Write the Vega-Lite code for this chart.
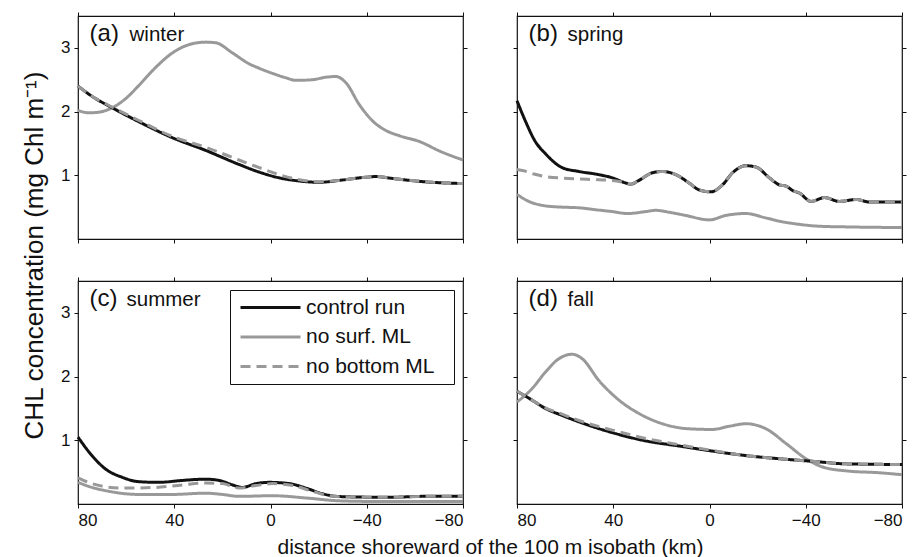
{
  "$schema": "https://vega.github.io/schema/vega-lite/v6.json",
  "padding": {"left": 20, "top": 10, "right": 10, "bottom": 2},
  "background": "white",
  "bounds": "flush",
  "columns": 2,
  "spacing": {"row": 42, "column": 54},
  "config": {
    "font": "Liberation Sans",
    "view": {"stroke": "#111", "strokeWidth": 1.2},
    "axis": {"grid": false, "domain": false, "tickColor": "#111", "tickSize": 4, "tickWidth": 1, "labelFontSize": 17, "labelColor": "#111", "labelPadding": 4, "titleColor": "#111", "titleFontWeight": "normal", "labelFont": "Liberation Sans", "titleFont": "Liberation Sans"}
  },
  "datasets": {
    "curves": [
      {"panel":"a","series":"control run","dist":80,"chl":2.40},
      {"panel":"a","series":"control run","dist":74.2,"chl":2.24},
      {"panel":"a","series":"control run","dist":65.8,"chl":2.06},
      {"panel":"a","series":"control run","dist":54.7,"chl":1.84},
      {"panel":"a","series":"control run","dist":40.8,"chl":1.59},
      {"panel":"a","series":"control run","dist":26.9,"chl":1.39},
      {"panel":"a","series":"control run","dist":13.1,"chl":1.17},
      {"panel":"a","series":"control run","dist":4.7,"chl":1.05},
      {"panel":"a","series":"control run","dist":-3.6,"chl":0.96},
      {"panel":"a","series":"control run","dist":-12,"chl":0.91},
      {"panel":"a","series":"control run","dist":-20.3,"chl":0.89},
      {"panel":"a","series":"control run","dist":-28.6,"chl":0.92},
      {"panel":"a","series":"control run","dist":-39.7,"chl":0.97},
      {"panel":"a","series":"control run","dist":-43.9,"chl":0.98},
      {"panel":"a","series":"control run","dist":-50.8,"chl":0.95},
      {"panel":"a","series":"control run","dist":-63.3,"chl":0.90},
      {"panel":"a","series":"control run","dist":-80,"chl":0.87},
      {"panel":"a","series":"no bottom ML","dist":80,"chl":2.40},
      {"panel":"a","series":"no bottom ML","dist":74.2,"chl":2.24},
      {"panel":"a","series":"no bottom ML","dist":65.8,"chl":2.07},
      {"panel":"a","series":"no bottom ML","dist":54.7,"chl":1.86},
      {"panel":"a","series":"no bottom ML","dist":40.8,"chl":1.61},
      {"panel":"a","series":"no bottom ML","dist":26.9,"chl":1.44},
      {"panel":"a","series":"no bottom ML","dist":13.1,"chl":1.24},
      {"panel":"a","series":"no bottom ML","dist":4.7,"chl":1.12},
      {"panel":"a","series":"no bottom ML","dist":-3.6,"chl":1.01},
      {"panel":"a","series":"no bottom ML","dist":-12,"chl":0.93},
      {"panel":"a","series":"no bottom ML","dist":-20.3,"chl":0.90},
      {"panel":"a","series":"no bottom ML","dist":-28.6,"chl":0.92},
      {"panel":"a","series":"no bottom ML","dist":-39.7,"chl":0.97},
      {"panel":"a","series":"no bottom ML","dist":-43.9,"chl":0.98},
      {"panel":"a","series":"no bottom ML","dist":-50.8,"chl":0.95},
      {"panel":"a","series":"no bottom ML","dist":-63.3,"chl":0.90},
      {"panel":"a","series":"no bottom ML","dist":-80,"chl":0.87},
      {"panel":"a","series":"no surf. ML","dist":80,"chl":2.02},
      {"panel":"a","series":"no surf. ML","dist":75.6,"chl":1.98},
      {"panel":"a","series":"no surf. ML","dist":71.4,"chl":1.99},
      {"panel":"a","series":"no surf. ML","dist":65.8,"chl":2.06},
      {"panel":"a","series":"no surf. ML","dist":60.3,"chl":2.20},
      {"panel":"a","series":"no surf. ML","dist":54.7,"chl":2.41},
      {"panel":"a","series":"no surf. ML","dist":47.8,"chl":2.69},
      {"panel":"a","series":"no surf. ML","dist":40.8,"chl":2.92},
      {"panel":"a","series":"no surf. ML","dist":33.9,"chl":3.05},
      {"panel":"a","series":"no surf. ML","dist":26.9,"chl":3.09},
      {"panel":"a","series":"no surf. ML","dist":22.8,"chl":3.08},
      {"panel":"a","series":"no surf. ML","dist":15.8,"chl":2.92},
      {"panel":"a","series":"no surf. ML","dist":8.9,"chl":2.75},
      {"panel":"a","series":"no surf. ML","dist":4.7,"chl":2.68},
      {"panel":"a","series":"no surf. ML","dist":-0.8,"chl":2.60},
      {"panel":"a","series":"no surf. ML","dist":-6.4,"chl":2.53},
      {"panel":"a","series":"no surf. ML","dist":-10.6,"chl":2.49},
      {"panel":"a","series":"no surf. ML","dist":-17.5,"chl":2.50},
      {"panel":"a","series":"no surf. ML","dist":-23.1,"chl":2.54},
      {"panel":"a","series":"no surf. ML","dist":-27.2,"chl":2.55},
      {"panel":"a","series":"no surf. ML","dist":-31.4,"chl":2.45},
      {"panel":"a","series":"no surf. ML","dist":-36.9,"chl":2.11},
      {"panel":"a","series":"no surf. ML","dist":-42.5,"chl":1.85},
      {"panel":"a","series":"no surf. ML","dist":-48.1,"chl":1.70},
      {"panel":"a","series":"no surf. ML","dist":-53.6,"chl":1.62},
      {"panel":"a","series":"no surf. ML","dist":-61.9,"chl":1.53},
      {"panel":"a","series":"no surf. ML","dist":-70.3,"chl":1.38},
      {"panel":"a","series":"no surf. ML","dist":-80,"chl":1.24},

      {"panel":"b","series":"control run","dist":80,"chl":2.17},
      {"panel":"b","series":"control run","dist":76.5,"chl":1.85},
      {"panel":"b","series":"control run","dist":72.4,"chl":1.53},
      {"panel":"b","series":"control run","dist":68.2,"chl":1.34},
      {"panel":"b","series":"control run","dist":61.25,"chl":1.12},
      {"panel":"b","series":"control run","dist":54.3,"chl":1.06},
      {"panel":"b","series":"control run","dist":46,"chl":1.01},
      {"panel":"b","series":"control run","dist":40.4,"chl":0.96},
      {"panel":"b","series":"control run","dist":34.9,"chl":0.88},
      {"panel":"b","series":"control run","dist":32.8,"chl":0.86},
      {"panel":"b","series":"control run","dist":29.3,"chl":0.92},
      {"panel":"b","series":"control run","dist":23.75,"chl":1.04},
      {"panel":"b","series":"control run","dist":19.6,"chl":1.06},
      {"panel":"b","series":"control run","dist":14,"chl":1.01},
      {"panel":"b","series":"control run","dist":8.5,"chl":0.88},
      {"panel":"b","series":"control run","dist":4.3,"chl":0.77},
      {"panel":"b","series":"control run","dist":-0.6,"chl":0.74},
      {"panel":"b","series":"control run","dist":-5.4,"chl":0.85},
      {"panel":"b","series":"control run","dist":-9.6,"chl":1.04},
      {"panel":"b","series":"control run","dist":-15.1,"chl":1.15},
      {"panel":"b","series":"control run","dist":-19.3,"chl":1.13},
      {"panel":"b","series":"control run","dist":-24.9,"chl":0.96},
      {"panel":"b","series":"control run","dist":-29,"chl":0.85},
      {"panel":"b","series":"control run","dist":-31.8,"chl":0.83},
      {"panel":"b","series":"control run","dist":-34.6,"chl":0.76},
      {"panel":"b","series":"control run","dist":-37.4,"chl":0.72},
      {"panel":"b","series":"control run","dist":-42.2,"chl":0.59},
      {"panel":"b","series":"control run","dist":-47.8,"chl":0.65},
      {"panel":"b","series":"control run","dist":-54,"chl":0.59},
      {"panel":"b","series":"control run","dist":-61,"chl":0.62},
      {"panel":"b","series":"control run","dist":-66.5,"chl":0.58},
      {"panel":"b","series":"control run","dist":-80,"chl":0.58},
      {"panel":"b","series":"no bottom ML","dist":80,"chl":1.09},
      {"panel":"b","series":"no bottom ML","dist":77.2,"chl":1.07},
      {"panel":"b","series":"no bottom ML","dist":73,"chl":1.02},
      {"panel":"b","series":"no bottom ML","dist":68.2,"chl":0.98},
      {"panel":"b","series":"no bottom ML","dist":58.5,"chl":0.95},
      {"panel":"b","series":"no bottom ML","dist":46,"chl":0.93},
      {"panel":"b","series":"no bottom ML","dist":40.4,"chl":0.92},
      {"panel":"b","series":"no bottom ML","dist":34.9,"chl":0.88},
      {"panel":"b","series":"no bottom ML","dist":32.8,"chl":0.86},
      {"panel":"b","series":"no bottom ML","dist":29.3,"chl":0.92},
      {"panel":"b","series":"no bottom ML","dist":23.75,"chl":1.04},
      {"panel":"b","series":"no bottom ML","dist":19.6,"chl":1.06},
      {"panel":"b","series":"no bottom ML","dist":14,"chl":1.01},
      {"panel":"b","series":"no bottom ML","dist":8.5,"chl":0.88},
      {"panel":"b","series":"no bottom ML","dist":4.3,"chl":0.77},
      {"panel":"b","series":"no bottom ML","dist":-0.6,"chl":0.74},
      {"panel":"b","series":"no bottom ML","dist":-5.4,"chl":0.85},
      {"panel":"b","series":"no bottom ML","dist":-9.6,"chl":1.04},
      {"panel":"b","series":"no bottom ML","dist":-15.1,"chl":1.15},
      {"panel":"b","series":"no bottom ML","dist":-19.3,"chl":1.13},
      {"panel":"b","series":"no bottom ML","dist":-24.9,"chl":0.96},
      {"panel":"b","series":"no bottom ML","dist":-29,"chl":0.85},
      {"panel":"b","series":"no bottom ML","dist":-31.8,"chl":0.83},
      {"panel":"b","series":"no bottom ML","dist":-34.6,"chl":0.76},
      {"panel":"b","series":"no bottom ML","dist":-37.4,"chl":0.72},
      {"panel":"b","series":"no bottom ML","dist":-42.2,"chl":0.59},
      {"panel":"b","series":"no bottom ML","dist":-47.8,"chl":0.65},
      {"panel":"b","series":"no bottom ML","dist":-54,"chl":0.59},
      {"panel":"b","series":"no bottom ML","dist":-61,"chl":0.62},
      {"panel":"b","series":"no bottom ML","dist":-66.5,"chl":0.58},
      {"panel":"b","series":"no bottom ML","dist":-80,"chl":0.58},
      {"panel":"b","series":"no surf. ML","dist":80,"chl":0.70},
      {"panel":"b","series":"no surf. ML","dist":75.1,"chl":0.59},
      {"panel":"b","series":"no surf. ML","dist":68.2,"chl":0.52},
      {"panel":"b","series":"no surf. ML","dist":61.25,"chl":0.50},
      {"panel":"b","series":"no surf. ML","dist":54.3,"chl":0.49},
      {"panel":"b","series":"no surf. ML","dist":47.4,"chl":0.46},
      {"panel":"b","series":"no surf. ML","dist":40.4,"chl":0.43},
      {"panel":"b","series":"no surf. ML","dist":34.2,"chl":0.40},
      {"panel":"b","series":"no surf. ML","dist":26.5,"chl":0.43},
      {"panel":"b","series":"no surf. ML","dist":22.4,"chl":0.45},
      {"panel":"b","series":"no surf. ML","dist":16.8,"chl":0.42},
      {"panel":"b","series":"no surf. ML","dist":9.9,"chl":0.37},
      {"panel":"b","series":"no surf. ML","dist":0.1,"chl":0.30},
      {"panel":"b","series":"no surf. ML","dist":-6.8,"chl":0.37},
      {"panel":"b","series":"no surf. ML","dist":-15.1,"chl":0.40},
      {"panel":"b","series":"no surf. ML","dist":-23.5,"chl":0.33},
      {"panel":"b","series":"no surf. ML","dist":-29,"chl":0.28},
      {"panel":"b","series":"no surf. ML","dist":-37.4,"chl":0.23},
      {"panel":"b","series":"no surf. ML","dist":-45.7,"chl":0.20},
      {"panel":"b","series":"no surf. ML","dist":-56.8,"chl":0.19},
      {"panel":"b","series":"no surf. ML","dist":-80,"chl":0.18},

      {"panel":"c","series":"control run","dist":80,"chl":1.05},
      {"panel":"c","series":"control run","dist":74.2,"chl":0.76},
      {"panel":"c","series":"control run","dist":68.6,"chl":0.55},
      {"panel":"c","series":"control run","dist":61.7,"chl":0.42},
      {"panel":"c","series":"control run","dist":54.7,"chl":0.35},
      {"panel":"c","series":"control run","dist":46.4,"chl":0.34},
      {"panel":"c","series":"control run","dist":36.7,"chl":0.37},
      {"panel":"c","series":"control run","dist":26.9,"chl":0.39},
      {"panel":"c","series":"control run","dist":21.4,"chl":0.37},
      {"panel":"c","series":"control run","dist":15.8,"chl":0.30},
      {"panel":"c","series":"control run","dist":11.7,"chl":0.26},
      {"panel":"c","series":"control run","dist":6.1,"chl":0.32},
      {"panel":"c","series":"control run","dist":0.6,"chl":0.34},
      {"panel":"c","series":"control run","dist":-7.8,"chl":0.32},
      {"panel":"c","series":"control run","dist":-14.7,"chl":0.25},
      {"panel":"c","series":"control run","dist":-21.7,"chl":0.16},
      {"panel":"c","series":"control run","dist":-27.2,"chl":0.12},
      {"panel":"c","series":"control run","dist":-35.6,"chl":0.11},
      {"panel":"c","series":"control run","dist":-49.4,"chl":0.105},
      {"panel":"c","series":"control run","dist":-63.3,"chl":0.12},
      {"panel":"c","series":"control run","dist":-80,"chl":0.12},
      {"panel":"c","series":"no bottom ML","dist":80,"chl":0.41},
      {"panel":"c","series":"no bottom ML","dist":74.2,"chl":0.32},
      {"panel":"c","series":"no bottom ML","dist":61.7,"chl":0.25},
      {"panel":"c","series":"no bottom ML","dist":47.8,"chl":0.26},
      {"panel":"c","series":"no bottom ML","dist":36.7,"chl":0.30},
      {"panel":"c","series":"no bottom ML","dist":26.9,"chl":0.33},
      {"panel":"c","series":"no bottom ML","dist":20,"chl":0.32},
      {"panel":"c","series":"no bottom ML","dist":13.1,"chl":0.25},
      {"panel":"c","series":"no bottom ML","dist":6.1,"chl":0.29},
      {"panel":"c","series":"no bottom ML","dist":-0.8,"chl":0.32},
      {"panel":"c","series":"no bottom ML","dist":-9.2,"chl":0.29},
      {"panel":"c","series":"no bottom ML","dist":-17.5,"chl":0.20},
      {"panel":"c","series":"no bottom ML","dist":-25.8,"chl":0.12},
      {"panel":"c","series":"no bottom ML","dist":-35.6,"chl":0.11},
      {"panel":"c","series":"no bottom ML","dist":-49.4,"chl":0.105},
      {"panel":"c","series":"no bottom ML","dist":-63.3,"chl":0.12},
      {"panel":"c","series":"no bottom ML","dist":-80,"chl":0.12},
      {"panel":"c","series":"no surf. ML","dist":80,"chl":0.34},
      {"panel":"c","series":"no surf. ML","dist":74.2,"chl":0.26},
      {"panel":"c","series":"no surf. ML","dist":68.6,"chl":0.21},
      {"panel":"c","series":"no surf. ML","dist":54.7,"chl":0.15},
      {"panel":"c","series":"no surf. ML","dist":40.8,"chl":0.15},
      {"panel":"c","series":"no surf. ML","dist":26.9,"chl":0.17},
      {"panel":"c","series":"no surf. ML","dist":20,"chl":0.15},
      {"panel":"c","series":"no surf. ML","dist":13.1,"chl":0.12},
      {"panel":"c","series":"no surf. ML","dist":-0.8,"chl":0.13},
      {"panel":"c","series":"no surf. ML","dist":-14.7,"chl":0.095},
      {"panel":"c","series":"no surf. ML","dist":-28.6,"chl":0.05},
      {"panel":"c","series":"no surf. ML","dist":-42.5,"chl":0.04},
      {"panel":"c","series":"no surf. ML","dist":-80,"chl":0.04},

      {"panel":"d","series":"control run","dist":80,"chl":1.77},
      {"panel":"d","series":"control run","dist":73.75,"chl":1.63},
      {"panel":"d","series":"control run","dist":68.2,"chl":1.50},
      {"panel":"d","series":"control run","dist":61.25,"chl":1.39},
      {"panel":"d","series":"control run","dist":54.3,"chl":1.29},
      {"panel":"d","series":"control run","dist":40.4,"chl":1.12},
      {"panel":"d","series":"control run","dist":26.5,"chl":0.99},
      {"panel":"d","series":"control run","dist":12.6,"chl":0.91},
      {"panel":"d","series":"control run","dist":-1.25,"chl":0.83},
      {"panel":"d","series":"control run","dist":-15.1,"chl":0.76},
      {"panel":"d","series":"control run","dist":-29,"chl":0.71},
      {"panel":"d","series":"control run","dist":-42.9,"chl":0.67},
      {"panel":"d","series":"control run","dist":-56.8,"chl":0.63},
      {"panel":"d","series":"control run","dist":-80,"chl":0.62},
      {"panel":"d","series":"no bottom ML","dist":80,"chl":1.77},
      {"panel":"d","series":"no bottom ML","dist":73.75,"chl":1.63},
      {"panel":"d","series":"no bottom ML","dist":68.2,"chl":1.51},
      {"panel":"d","series":"no bottom ML","dist":61.25,"chl":1.41},
      {"panel":"d","series":"no bottom ML","dist":54.3,"chl":1.31},
      {"panel":"d","series":"no bottom ML","dist":40.4,"chl":1.16},
      {"panel":"d","series":"no bottom ML","dist":26.5,"chl":1.03},
      {"panel":"d","series":"no bottom ML","dist":12.6,"chl":0.93},
      {"panel":"d","series":"no bottom ML","dist":-1.25,"chl":0.84},
      {"panel":"d","series":"no bottom ML","dist":-15.1,"chl":0.76},
      {"panel":"d","series":"no bottom ML","dist":-29,"chl":0.71},
      {"panel":"d","series":"no bottom ML","dist":-42.9,"chl":0.67},
      {"panel":"d","series":"no bottom ML","dist":-56.8,"chl":0.63},
      {"panel":"d","series":"no bottom ML","dist":-80,"chl":0.62},
      {"panel":"d","series":"no surf. ML","dist":80,"chl":1.60},
      {"panel":"d","series":"no surf. ML","dist":73.75,"chl":1.81},
      {"panel":"d","series":"no surf. ML","dist":68.2,"chl":2.07},
      {"panel":"d","series":"no surf. ML","dist":62.6,"chl":2.28},
      {"panel":"d","series":"no surf. ML","dist":57.1,"chl":2.35},
      {"panel":"d","series":"no surf. ML","dist":52.9,"chl":2.28},
      {"panel":"d","series":"no surf. ML","dist":46,"chl":1.94},
      {"panel":"d","series":"no surf. ML","dist":37.6,"chl":1.63},
      {"panel":"d","series":"no surf. ML","dist":29.3,"chl":1.42},
      {"panel":"d","series":"no surf. ML","dist":19.6,"chl":1.26},
      {"panel":"d","series":"no surf. ML","dist":8.5,"chl":1.18},
      {"panel":"d","series":"no surf. ML","dist":-1.25,"chl":1.17},
      {"panel":"d","series":"no surf. ML","dist":-8.2,"chl":1.22},
      {"panel":"d","series":"no surf. ML","dist":-15.1,"chl":1.26},
      {"panel":"d","series":"no surf. ML","dist":-23.5,"chl":1.18},
      {"panel":"d","series":"no surf. ML","dist":-31.8,"chl":0.95},
      {"panel":"d","series":"no surf. ML","dist":-40.1,"chl":0.71},
      {"panel":"d","series":"no surf. ML","dist":-47.1,"chl":0.58},
      {"panel":"d","series":"no surf. ML","dist":-56.8,"chl":0.52},
      {"panel":"d","series":"no surf. ML","dist":-70.7,"chl":0.49},
      {"panel":"d","series":"no surf. ML","dist":-80,"chl":0.46}
    ],
    "labels": [
      {"panel":"a","tag":"(a)","season":"winter"},
      {"panel":"b","tag":"(b)","season":"spring"},
      {"panel":"c","tag":"(c)","season":"summer"},
      {"panel":"d","tag":"(d)","season":"fall"}
    ]
  },
  "data": {"name": "curves"},
  "resolve": {
    "scale": {"color": "independent", "strokeDash": "independent"},
    "legend": {"color": "independent", "strokeDash": "independent"}
  },
  "concat": [
    {
      "width": 385, "height": 223,
      "resolve": {"axis": {"x": "independent", "y": "independent"}},
      "layer": [
        {"transform": [{"filter": "datum.panel==='a' && datum.series==='no surf. ML'"}],
         "mark": {"type": "line", "strokeWidth": 3, "interpolate": "monotone"},
         "encoding": {
           "x": {"field": "dist", "type": "quantitative", "scale": {"domain": [-80, 80], "reverse": true, "nice": false, "zero": false}, "axis": {"orient": "bottom", "values": [80, 40, 0, -40, -80], "labels": false, "title": null}},
           "y": {"field": "chl", "type": "quantitative", "scale": {"domain": [0, 3.5], "nice": false}, "axis": {"orient": "left", "values": [1, 2, 3], "title": null}},
           "color": {"field": "series", "type": "nominal", "scale": {"domain": ["control run", "no surf. ML", "no bottom ML"], "range": ["#111111", "#999999", "#999999"]}, "legend": null},
           "strokeDash": {"field": "series", "type": "nominal", "scale": {"domain": ["control run", "no surf. ML", "no bottom ML"], "range": [[1, 0], [1, 0], [10, 6]]}, "legend": null}
         }},
        {"transform": [{"filter": "datum.panel==='a' && datum.series==='control run'"}],
         "mark": {"type": "line", "strokeWidth": 3, "interpolate": "monotone"},
         "encoding": {
           "x": {"field": "dist", "type": "quantitative", "axis": {"orient": "top", "values": [80, 40, 0, -40, -80], "labels": false, "title": null}},
           "y": {"field": "chl", "type": "quantitative", "axis": {"orient": "right", "values": [1, 2, 3], "labels": false, "title": null}},
           "color": {"field": "series", "type": "nominal", "legend": null},
           "strokeDash": {"field": "series", "type": "nominal", "legend": null}
         }},
        {"transform": [{"filter": "datum.panel==='a' && datum.series==='no bottom ML'"}],
         "mark": {"type": "line", "strokeWidth": 3, "interpolate": "monotone"},
         "encoding": {
           "x": {"field": "dist", "type": "quantitative", "axis": null},
           "y": {"field": "chl", "type": "quantitative", "axis": null},
           "color": {"field": "series", "type": "nominal", "legend": null},
           "strokeDash": {"field": "series", "type": "nominal", "legend": null}
         }},
        {"data": {"name": "labels"}, "transform": [{"filter": "datum.panel==='a'"}],
         "mark": {"type": "text", "align": "left", "baseline": "alphabetic", "fontSize": 24, "color": "#111"},
         "encoding": {"x": {"datum": 75.2, "type": "quantitative", "axis": null}, "y": {"datum": 3.1, "type": "quantitative", "axis": null}, "text": {"field": "tag"}}},
        {"data": {"name": "labels"}, "transform": [{"filter": "datum.panel==='a'"}],
         "mark": {"type": "text", "align": "left", "baseline": "alphabetic", "fontSize": 20.5, "dx": 40, "color": "#111"},
         "encoding": {"x": {"datum": 75.2, "type": "quantitative", "axis": null}, "y": {"datum": 3.1, "type": "quantitative", "axis": null}, "text": {"field": "season"}}}
      ]
    },
    {
      "width": 385, "height": 223,
      "resolve": {"axis": {"x": "independent", "y": "independent"}},
      "layer": [
        {"transform": [{"filter": "datum.panel==='b' && datum.series==='no surf. ML'"}],
         "mark": {"type": "line", "strokeWidth": 3, "interpolate": "monotone"},
         "encoding": {
           "x": {"field": "dist", "type": "quantitative", "scale": {"domain": [-80, 80], "reverse": true, "nice": false, "zero": false}, "axis": {"orient": "bottom", "values": [80, 40, 0, -40, -80], "labels": false, "title": null}},
           "y": {"field": "chl", "type": "quantitative", "scale": {"domain": [0, 3.5], "nice": false}, "axis": {"orient": "left", "values": [1, 2, 3], "labels": false, "title": null}},
           "color": {"field": "series", "type": "nominal", "scale": {"domain": ["control run", "no surf. ML", "no bottom ML"], "range": ["#111111", "#999999", "#999999"]}, "legend": null},
           "strokeDash": {"field": "series", "type": "nominal", "scale": {"domain": ["control run", "no surf. ML", "no bottom ML"], "range": [[1, 0], [1, 0], [10, 6]]}, "legend": null}
         }},
        {"transform": [{"filter": "datum.panel==='b' && datum.series==='control run'"}],
         "mark": {"type": "line", "strokeWidth": 3, "interpolate": "monotone"},
         "encoding": {
           "x": {"field": "dist", "type": "quantitative", "axis": {"orient": "top", "values": [80, 40, 0, -40, -80], "labels": false, "title": null}},
           "y": {"field": "chl", "type": "quantitative", "axis": {"orient": "right", "values": [1, 2, 3], "labels": false, "title": null}},
           "color": {"field": "series", "type": "nominal", "legend": null},
           "strokeDash": {"field": "series", "type": "nominal", "legend": null}
         }},
        {"transform": [{"filter": "datum.panel==='b' && datum.series==='no bottom ML'"}],
         "mark": {"type": "line", "strokeWidth": 3, "interpolate": "monotone"},
         "encoding": {
           "x": {"field": "dist", "type": "quantitative", "axis": null},
           "y": {"field": "chl", "type": "quantitative", "axis": null},
           "color": {"field": "series", "type": "nominal", "legend": null},
           "strokeDash": {"field": "series", "type": "nominal", "legend": null}
         }},
        {"data": {"name": "labels"}, "transform": [{"filter": "datum.panel==='b'"}],
         "mark": {"type": "text", "align": "left", "baseline": "alphabetic", "fontSize": 24, "color": "#111"},
         "encoding": {"x": {"datum": 75.2, "type": "quantitative", "axis": null}, "y": {"datum": 3.1, "type": "quantitative", "axis": null}, "text": {"field": "tag"}}},
        {"data": {"name": "labels"}, "transform": [{"filter": "datum.panel==='b'"}],
         "mark": {"type": "text", "align": "left", "baseline": "alphabetic", "fontSize": 20.5, "dx": 39, "color": "#111"},
         "encoding": {"x": {"datum": 75.2, "type": "quantitative", "axis": null}, "y": {"datum": 3.1, "type": "quantitative", "axis": null}, "text": {"field": "season"}}}
      ]
    },
    {
      "width": 385, "height": 223,
      "resolve": {"axis": {"x": "independent", "y": "independent"}},
      "layer": [
        {"transform": [{"filter": "datum.panel==='c' && datum.series==='no surf. ML'"}],
         "mark": {"type": "line", "strokeWidth": 3, "interpolate": "monotone"},
         "encoding": {
           "x": {"field": "dist", "type": "quantitative", "scale": {"domain": [-80, 80], "reverse": true, "nice": false, "zero": false}, "axis": {"orient": "bottom", "values": [80, 40, 0, -40, -80], "title": "distance shoreward of the 100 m isobath (km)", "titleFontSize": 21, "titleX": 412, "titleY": 49, "titleAlign": "center", "titleBaseline": "alphabetic", "titleAngle": 0}},
           "y": {"field": "chl", "type": "quantitative", "scale": {"domain": [0, 3.5], "nice": false}, "axis": {"orient": "left", "values": [1, 2, 3], "title": "CHL concentration (mg Chl m⁻¹)", "titleFontSize": 26, "titleX": -36, "titleY": -26, "titleAngle": 270, "titleAlign": "center", "titleBaseline": "alphabetic"}},
           "color": {"field": "series", "type": "nominal", "scale": {"domain": ["control run", "no surf. ML", "no bottom ML"], "range": ["#111111", "#999999", "#999999"]},
             "legend": {"orient": "top-right", "offset": 9, "title": null, "padding": 7, "strokeColor": "#111", "fillColor": "white", "labelFontSize": 21, "labelColor": "#111", "labelExpr": "datum.label + '\u00a0\u00a0\u200b'", "symbolType": "M-3.75,0H3.75", "symbolSize": 256, "symbolStrokeWidth": 3, "symbolOffset": 23, "rowPadding": 7.5, "labelOffset": 25, "cornerRadius": 0}},
           "strokeDash": {"field": "series", "type": "nominal", "scale": {"domain": ["control run", "no surf. ML", "no bottom ML"], "range": [[1, 0], [1, 0], [10, 6]]},
             "legend": {"orient": "top-right", "offset": 9, "title": null, "padding": 7, "strokeColor": "#111", "fillColor": "white", "labelFontSize": 21, "labelColor": "#111", "labelExpr": "datum.label + '\u00a0\u00a0\u200b'", "symbolType": "M-3.75,0H3.75", "symbolSize": 256, "symbolStrokeWidth": 3, "symbolOffset": 23, "rowPadding": 7.5, "labelOffset": 25, "cornerRadius": 0}}
         }},
        {"transform": [{"filter": "datum.panel==='c' && datum.series==='control run'"}],
         "mark": {"type": "line", "strokeWidth": 3, "interpolate": "monotone"},
         "encoding": {
           "x": {"field": "dist", "type": "quantitative", "axis": {"orient": "top", "values": [80, 40, 0, -40, -80], "labels": false, "title": null}},
           "y": {"field": "chl", "type": "quantitative", "axis": {"orient": "right", "values": [1, 2, 3], "labels": false, "title": null}},
           "color": {"field": "series", "type": "nominal"},
           "strokeDash": {"field": "series", "type": "nominal"}
         }},
        {"transform": [{"filter": "datum.panel==='c' && datum.series==='no bottom ML'"}],
         "mark": {"type": "line", "strokeWidth": 3, "interpolate": "monotone"},
         "encoding": {
           "x": {"field": "dist", "type": "quantitative", "axis": null},
           "y": {"field": "chl", "type": "quantitative", "axis": null},
           "color": {"field": "series", "type": "nominal"},
           "strokeDash": {"field": "series", "type": "nominal"}
         }},
        {"data": {"name": "labels"}, "transform": [{"filter": "datum.panel==='c'"}],
         "mark": {"type": "text", "align": "left", "baseline": "alphabetic", "fontSize": 24, "color": "#111"},
         "encoding": {"x": {"datum": 75.2, "type": "quantitative", "axis": null}, "y": {"datum": 3.1, "type": "quantitative", "axis": null}, "text": {"field": "tag"}}},
        {"data": {"name": "labels"}, "transform": [{"filter": "datum.panel==='c'"}],
         "mark": {"type": "text", "align": "left", "baseline": "alphabetic", "fontSize": 20.5, "dx": 37, "color": "#111"},
         "encoding": {"x": {"datum": 75.2, "type": "quantitative", "axis": null}, "y": {"datum": 3.1, "type": "quantitative", "axis": null}, "text": {"field": "season"}}}
      ]
    },
    {
      "width": 385, "height": 223,
      "resolve": {"axis": {"x": "independent", "y": "independent"}},
      "layer": [
        {"transform": [{"filter": "datum.panel==='d' && datum.series==='no surf. ML'"}],
         "mark": {"type": "line", "strokeWidth": 3, "interpolate": "monotone"},
         "encoding": {
           "x": {"field": "dist", "type": "quantitative", "scale": {"domain": [-80, 80], "reverse": true, "nice": false, "zero": false}, "axis": {"orient": "bottom", "values": [80, 40, 0, -40, -80], "title": null}},
           "y": {"field": "chl", "type": "quantitative", "scale": {"domain": [0, 3.5], "nice": false}, "axis": {"orient": "left", "values": [1, 2, 3], "labels": false, "title": null}},
           "color": {"field": "series", "type": "nominal", "scale": {"domain": ["control run", "no surf. ML", "no bottom ML"], "range": ["#111111", "#999999", "#999999"]}, "legend": null},
           "strokeDash": {"field": "series", "type": "nominal", "scale": {"domain": ["control run", "no surf. ML", "no bottom ML"], "range": [[1, 0], [1, 0], [10, 6]]}, "legend": null}
         }},
        {"transform": [{"filter": "datum.panel==='d' && datum.series==='control run'"}],
         "mark": {"type": "line", "strokeWidth": 3, "interpolate": "monotone"},
         "encoding": {
           "x": {"field": "dist", "type": "quantitative", "axis": {"orient": "top", "values": [80, 40, 0, -40, -80], "labels": false, "title": null}},
           "y": {"field": "chl", "type": "quantitative", "axis": {"orient": "right", "values": [1, 2, 3], "labels": false, "title": null}},
           "color": {"field": "series", "type": "nominal", "legend": null},
           "strokeDash": {"field": "series", "type": "nominal", "legend": null}
         }},
        {"transform": [{"filter": "datum.panel==='d' && datum.series==='no bottom ML'"}],
         "mark": {"type": "line", "strokeWidth": 3, "interpolate": "monotone"},
         "encoding": {
           "x": {"field": "dist", "type": "quantitative", "axis": null},
           "y": {"field": "chl", "type": "quantitative", "axis": null},
           "color": {"field": "series", "type": "nominal", "legend": null},
           "strokeDash": {"field": "series", "type": "nominal", "legend": null}
         }},
        {"data": {"name": "labels"}, "transform": [{"filter": "datum.panel==='d'"}],
         "mark": {"type": "text", "align": "left", "baseline": "alphabetic", "fontSize": 24, "color": "#111"},
         "encoding": {"x": {"datum": 75.2, "type": "quantitative", "axis": null}, "y": {"datum": 3.1, "type": "quantitative", "axis": null}, "text": {"field": "tag"}}},
        {"data": {"name": "labels"}, "transform": [{"filter": "datum.panel==='d'"}],
         "mark": {"type": "text", "align": "left", "baseline": "alphabetic", "fontSize": 20.5, "dx": 39, "color": "#111"},
         "encoding": {"x": {"datum": 75.2, "type": "quantitative", "axis": null}, "y": {"datum": 3.1, "type": "quantitative", "axis": null}, "text": {"field": "season"}}}
      ]
    }
  ]
}
